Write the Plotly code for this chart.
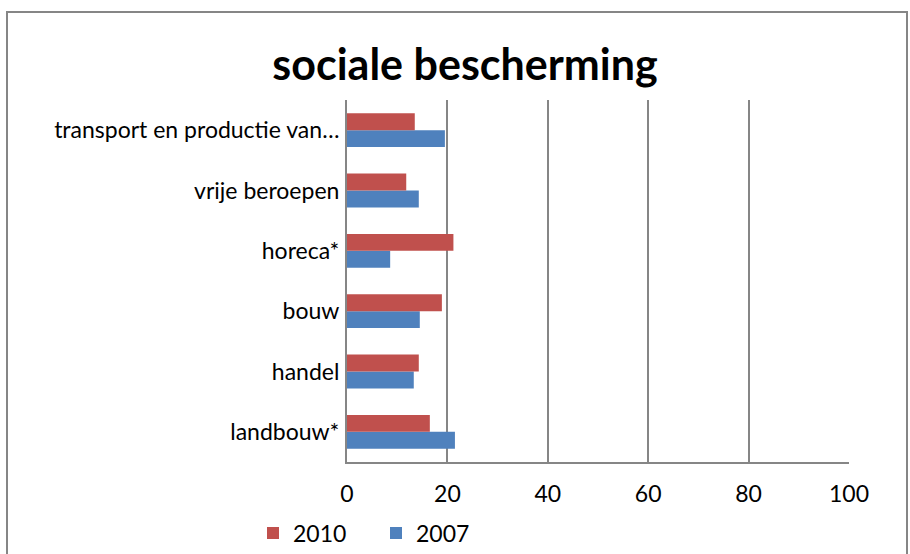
import plotly.graph_objects as go

categories = ["landbouw*", "handel", "bouw", "horeca*", "vrije beroepen", "transport en productie van…"]
values_2007 = [21.5, 13.3, 14.5, 8.6, 14.3, 19.5]
values_2010 = [16.5, 14.3, 18.9, 21.2, 11.8, 13.5]
x_ticks = [0, 20, 40, 60, 80, 100]

FONT = "Lato"

fig = go.Figure()
fig.add_trace(go.Bar(y=categories, x=values_2007, orientation="h", name="2007",
                     marker=dict(color="#4f81bd", line=dict(width=0))))
fig.add_trace(go.Bar(y=categories, x=values_2010, orientation="h", name="2010",
                     marker=dict(color="#c0504d", line=dict(width=0))))

W, H = 910, 554
ml, mr, mt, mb = 347, 61, 100, 92
pw, ph = W - ml - mr, H - mt - mb

def px_x(p):
    return (p - ml) / pw

def px_y(p):
    return (H - mb - p) / ph

fig.update_layout(
    width=W, height=H,
    margin=dict(l=ml, r=mr, t=mt, b=mb, autoexpand=False),
    paper_bgcolor="white", plot_bgcolor="white",
    font=dict(family=FONT, size=23, color="black"),
    title=dict(text="<b>sociale bescherming</b>", x=0.511, xanchor="center",
               y=1 - 65 / H, yanchor="middle", font=dict(size=43, family=FONT)),
    barmode="group", bargap=0.44, bargroupgap=0,
    showlegend=True,
    legend=dict(orientation="h", traceorder="reversed", x=px_x(253), xanchor="left",
                y=px_y(533), yanchor="middle", font=dict(size=23),
                entrywidth=78, entrywidthmode="pixels", bgcolor="rgba(0,0,0,0)"),
    xaxis=dict(range=[0, 100], tickvals=x_ticks, showgrid=True, gridcolor="#868686",
               gridwidth=2, zeroline=False, showline=True, linecolor="#868686", linewidth=2,
               ticks="", ticklabelstandoff=10, tickfont=dict(size=23), fixedrange=True,
               automargin=False),
    yaxis=dict(showgrid=False, showline=True, linecolor="#868686", linewidth=2,
               ticks="", ticklabelstandoff=1, tickfont=dict(size=23), fixedrange=True,
               automargin=False),
    shapes=[dict(type="rect", xref="paper", yref="paper",
                 x0=px_x(7), x1=px_x(907), y0=px_y(600), y1=px_y(12),
                 line=dict(color="#868686", width=2), fillcolor="rgba(0,0,0,0)", layer="below")],
)

fig.write_html("out.html", config={"displayModeBar": False},
               post_script="document.body.style.margin='0px';")
